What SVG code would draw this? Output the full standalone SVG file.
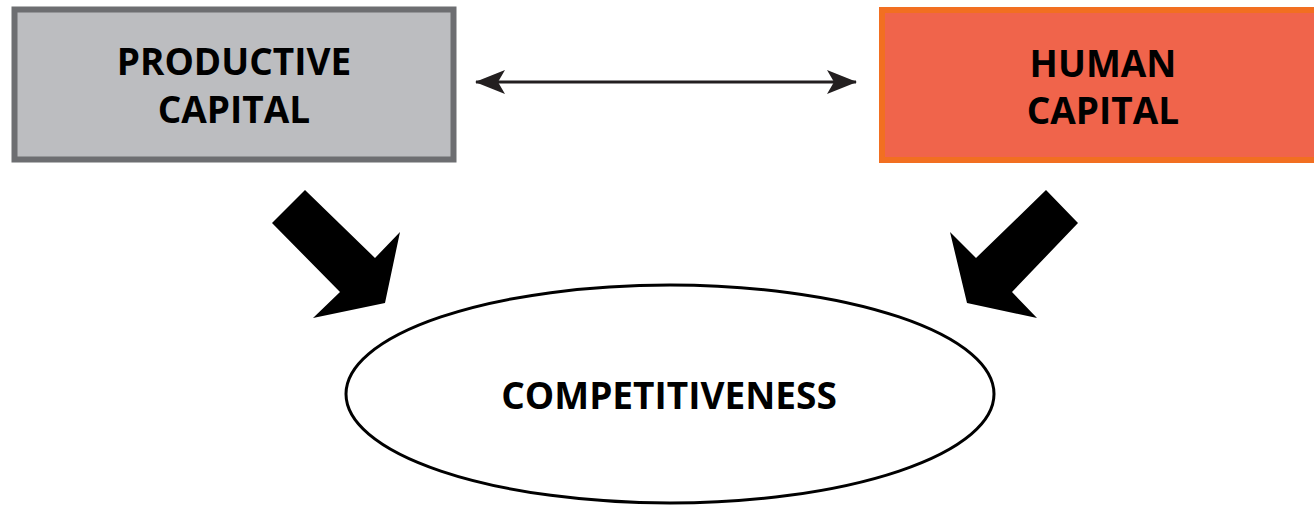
<svg xmlns="http://www.w3.org/2000/svg" width="1314" height="507" viewBox="0 0 1314 507">
  <style>
    .lbl { font-family: "Open Sans", "Liberation Sans", sans-serif; font-weight: bold; font-size: 37px; fill: #000; text-anchor: middle; }
    .big { fill: #000; }
  </style>
  <defs>
    <marker id="head" viewBox="0 0 30 24" refX="29" refY="12" markerWidth="30" markerHeight="24" markerUnits="userSpaceOnUse" orient="auto-start-reverse">
      <path d="M0,0 L30,12 L0,24 L7,12 Z" fill="#231f20"/>
    </marker>
  </defs>
  <rect width="1314" height="507" fill="#fff"/>

  <g id="productive-capital">
    <rect x="14.5" y="9.5" width="439" height="150" fill="#bcbdc0" stroke="#6d6e71" stroke-width="6"/>
    <text class="lbl" x="234" y="75">PRODUCTIVE</text>
    <text class="lbl" x="234" y="123">CAPITAL</text>
  </g>

  <g id="human-capital">
    <rect x="882" y="10" width="446" height="150" fill="#f0644b" stroke="#f26f21" stroke-width="6"/>
    <text class="lbl" x="1103" y="77">HUMAN</text>
    <text class="lbl" x="1103" y="124">CAPITAL</text>
  </g>

  <g id="competitiveness">
    <ellipse cx="670" cy="394" rx="324" ry="109" fill="#fff" stroke="#000" stroke-width="3"/>
    <text class="lbl" x="669" y="409">COMPETITIVENESS</text>
  </g>

  <g id="connectors">
    <line x1="476" y1="82" x2="856" y2="82" stroke="#231f20" stroke-width="3" marker-start="url(#head)" marker-end="url(#head)"/>
    <polygon class="big" points="305,190 272,223 340,292 313,318 385,303 400,232 375,258"/>
    <polygon class="big" points="1046,190 1078,223 1012,292 1037,318 967,303 950,232 976,258"/>
  </g>
</svg>
